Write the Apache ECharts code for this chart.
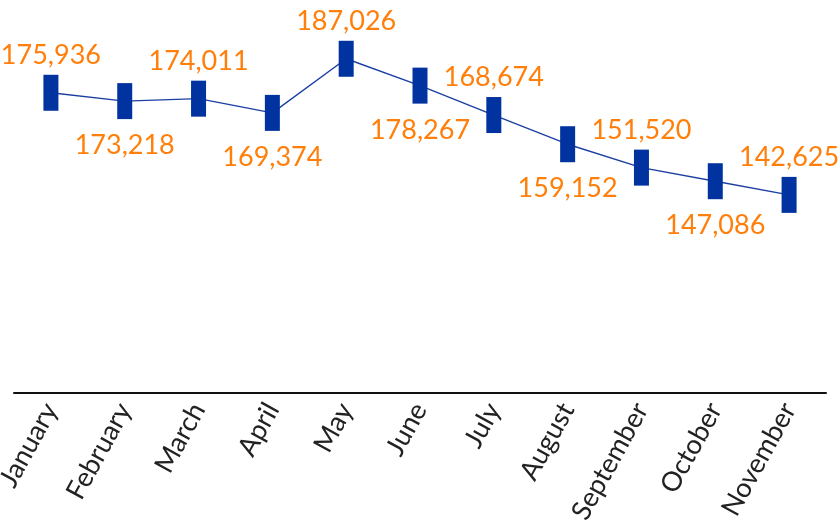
<!DOCTYPE html>
<html>
<head>
<meta charset="utf-8">
<script src="https://cdn.jsdelivr.net/npm/echarts@6/dist/echarts.min.js"></script>
<style>
  html, body { margin: 0; padding: 0; background: #fff; }
  #chart { width: 838px; height: 525px; }
</style>
</head>
<body>
<div id="chart"></div>
<script>
// chart data
var months = ['January', 'February', 'March', 'April', 'May', 'June',
  'July', 'August', 'September', 'October', 'November'];
var visitors = [175936, 173218, 174011, 169374, 187026, 178267,
  168674, 159152, 151520, 147086, 142625];

var chart = echarts.init(document.getElementById('chart'));

chart.setOption({
  animation: false,
  grid: {
    left: 14,
    right: 12,
    top: 19,
    bottom: 132,
    outerBoundsMode: 'none'
  },
  xAxis: {
    type: 'category',
    data: months,
    boundaryGap: true,
    axisLine: { lineStyle: { color: '#111', width: 2 } },
    axisTick: { show: false },
    axisLabel: {
      rotate: 61,
      margin: 12,
      color: '#222',
      fontSize: 27,
      fontFamily: 'Lato, sans-serif'
    }
  },
  yAxis: {
    type: 'value',
    min: 78000,
    max: 200000,
    show: false,
    splitLine: { show: false }
  },
  series: [{
    type: 'line',
    data: visitors.map(function (v, i) {
      var up = i % 2 === 0;
      return {
        value: v,
        label: { position: up ? 'top' : 'bottom', distance: up ? 6 : 13 }
      };
    }),
    symbol: 'rect',
    symbolSize: [15, 36],
    showAllSymbol: true,
    itemStyle: { color: '#0033a0' },
    lineStyle: { color: '#1c3fa3', width: 1.4 },
    label: {
      show: true,
      color: '#ff7f0a',
      fontSize: 27,
      fontFamily: 'Lato, sans-serif',
      formatter: function (p) {
        return p.value.toLocaleString('en-US');
      }
    }
  }]
});
</script>
</body>
</html>
